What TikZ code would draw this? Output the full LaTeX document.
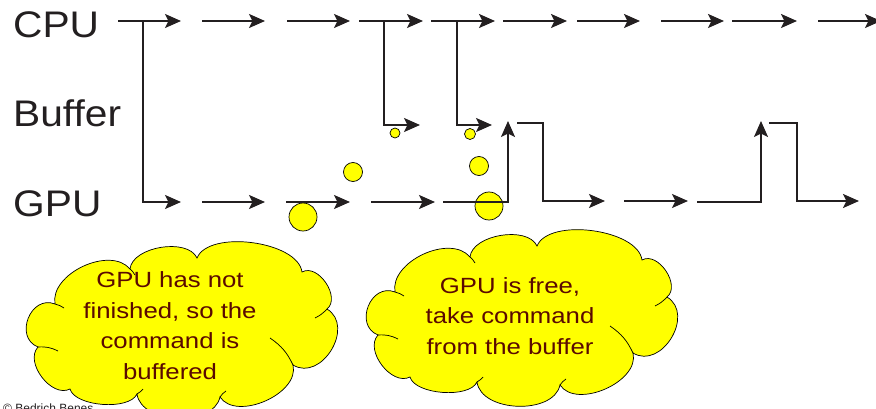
\documentclass[tikz,border=0pt]{standalone}
\usepackage{fontspec}
\setmainfont{Liberation Sans}
\newfontfamily\labfont[FakeStretch=1.1]{Liberation Sans}
\newfontfamily\cldfont[FakeStretch=1.17]{Liberation Sans}
\usetikzlibrary{arrows.meta}
\definecolor{ink}{HTML}{231F20}
\definecolor{txt}{HTML}{5A0A00}
\definecolor{yel}{HTML}{FFFF00}
\newcommand\cloudoutline{%
  (395,292) to[bend left=75,looseness=0.95] (470,257)
  to[bend left=75,looseness=0.85] (537,246)
  to[bend left=75,looseness=0.75] (642,260)
  to[bend left=85,looseness=1.05] (667,297)
  to[bend left=90,looseness=1.3] (633,353)
  to[bend left=80,looseness=0.95] (560,385)
  to[bend left=80,looseness=0.95] (477,382)
  to[bend left=70,looseness=0.7] (410,377)
  to[bend left=80,looseness=1.0] (378,335)
  to[bend left=90,looseness=1.45] (395,292) -- cycle}
\newcommand\cloudinner{%
  \draw[cloudline] (633,353) to[bend right=15] (610,326);
  \draw[cloudline] (378,335) to[bend left=15] (398,339);
  \draw[cloudline] (667,297) to[bend left=10] (655,306);
  \draw[cloudline] (395,292) to[bend left=10] (404,296);
  \draw[cloudline] (470,257) to[bend left=10] (475,263);
  \draw[cloudline] (560,385) to[bend left=10] (566,379);
  \draw[cloudline] (477,382) to[bend right=10] (483,377);}
\begin{document}
\begin{tikzpicture}[x=1pt,y=-1pt,
  arr/.style={line width=2pt, draw=ink, line join=miter, -{Stealth[length=16pt,width=14pt,inset=3.5pt]}},
  bub/.style={circle, fill=yel, draw=black, line width=0.7pt, inner sep=0pt},
  cloudfill/.style={fill=yel, draw=black, line width=0.7pt},
  cloudline/.style={draw=black, line width=0.7pt},
  rowlab/.style={anchor=base west, inner sep=0pt, text=ink, font=\labfont\fontsize{37}{40}\selectfont},
  cldtxt/.style={anchor=north, inner sep=0pt, align=center, text=txt, font=\cldfont\fontsize{22}{30.5}\selectfont}]
\useasboundingbox (0,0) rectangle (876,409);
\clip (0,0) rectangle (876,409);

% labels
\node[rowlab] (lcpu) at (13,38) {CPU};
\node[rowlab] (lbuf) at (13,127) {Buffer};
\node[rowlab] (lgpu) at (13,216) {GPU};

% bubbles (under the lines)
\node[bub, minimum size=10pt] (b1) at (395,133) {};
\node[bub, minimum size=11pt] (b2) at (470,134) {};
\node[bub, minimum size=19pt] (b3) at (353,172) {};
\node[bub, minimum size=19pt] (b4) at (479,166) {};
\node[bub, minimum size=28pt] (b5) at (303,217) {};
\node[bub, minimum size=28pt] (b6) at (489,206) {};

% CPU row
\draw[arr] (118,21) -- (181,21);
\draw[arr] (143,21) -- (143,202) -- (181,202);
\draw[arr] (202,21) -- (265,21);
\draw[arr] (287,21) -- (350,21);
\draw[arr] (359,21) -- (423,21);
\draw[arr] (384,21) -- (384,125) -- (420,125);
\draw[arr] (431,21) -- (495,21);
\draw[arr] (457,21) -- (457,125) -- (492,125);
\draw[arr] (503,21) -- (567,21);
\draw[arr] (577,21) -- (640,21);
\draw[arr] (661,21) -- (724,21);
\draw[arr] (732,21) -- (797,21);
\draw[arr] (818,21) -- (881,21);

% GPU row
\draw[arr] (202,202) -- (265,202);
\draw[arr] (286,202) -- (350,202);
\draw[arr] (371,202) -- (435,202);
\draw[arr] (443,202) -- (508,202) -- (508,121);
\draw[arr] (517,123) -- (543,123) -- (543,201) -- (605,201);
\draw[arr] (624,201) -- (688,201);
\draw[arr] (697,202) -- (761,202) -- (761,121);
\draw[arr] (769,123) -- (797,123) -- (797,201) -- (859,201);

% clouds
\begin{scope}[shift={(-340,12)}]
  \path[cloudfill] \cloudoutline;
  \cloudinner
\end{scope}
\path[cloudfill] \cloudoutline;
\cloudinner
\node[cldtxt] (t1) at (170,271.5) {GPU has not\\finished, so the\\command is\\buffered};
\node[cldtxt] (t2) at (510,277) {GPU is free,\\take command\\from the buffer};

% copyright (cut off at the bottom)
\node[anchor=base west, inner sep=0pt, text=ink, font=\fontsize{12}{14}\selectfont] (copy) at (3,412) {\textcopyright{} Bedrich Benes};
\end{tikzpicture}
\end{document}
